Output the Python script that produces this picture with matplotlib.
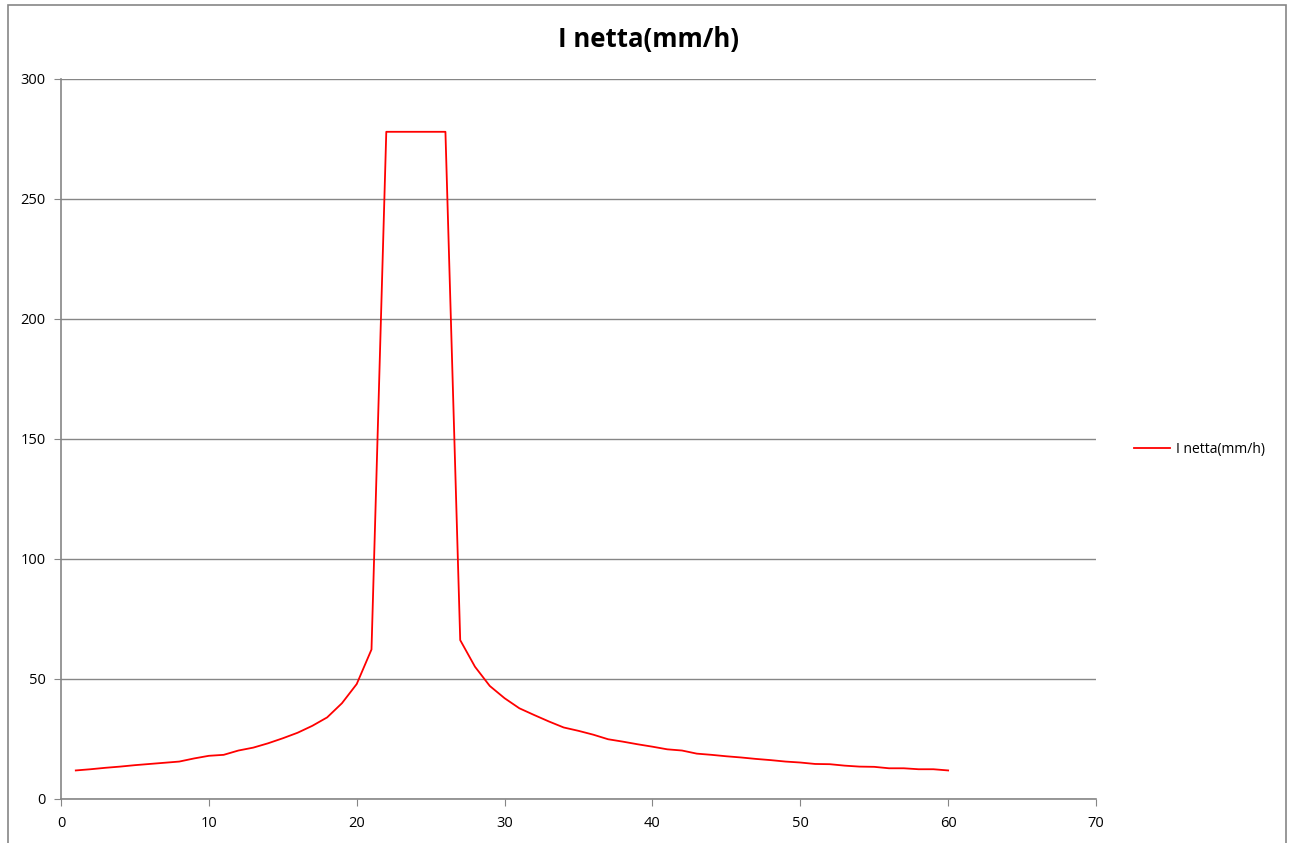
import matplotlib.pyplot as plt
from matplotlib.patches import Rectangle

x = list(range(1, 61))
i_netta = [11.9, 12.4, 13.0, 13.5, 14.1, 14.6, 15.1, 15.6, 16.9, 18.0,
           18.4, 20.2, 21.4, 23.2, 25.3, 27.6, 30.5, 34.0, 39.9, 47.9,
           62.3, 278, 278, 278, 278, 278, 66.2, 55.1, 47.1, 42.0,
           37.8, 35.0, 32.3, 29.8, 28.4, 26.8, 24.9, 23.9, 22.8, 21.8,
           20.7, 20.2, 18.9, 18.4, 17.8, 17.3, 16.7, 16.2, 15.6, 15.2,
           14.6, 14.5, 13.9, 13.5, 13.4, 12.8, 12.8, 12.4, 12.4, 11.9]

plt.rcParams['font.family'] = ['Open Sans', 'DejaVu Sans']

W, H = 1290, 843
fig = plt.figure(figsize=(W/100, H/100), dpi=100)
fig.patches.append(Rectangle((8/W, -0.1), (1286-8)/W, 1.1 - 5/H,
                             transform=fig.transFigure, fill=False,
                             edgecolor='#868686', lw=1.2))

ax = fig.add_axes([61/W, 1-799/H, (1096-61)/W, (799-79)/H])
ax.plot(x, i_netta, color='#ff0000', lw=1.3, label='I netta(mm/h)')

ax.set_xlim(0, 70)
ax.set_ylim(0, 300)
ax.set_xticks(range(0, 71, 10))
ax.set_yticks(range(0, 301, 50))
ax.grid(axis='y', color='#868686', lw=1)
ax.set_axisbelow(True)
for s in ['top', 'right']:
    ax.spines[s].set_visible(False)
for s in ['left', 'bottom']:
    ax.spines[s].set_color('#868686')
    ax.spines[s].set_linewidth(1.2)
ax.tick_params(colors='#868686', labelcolor='black', labelsize=10.5,
               length=5, direction='out')
ax.tick_params(axis='x', pad=7)
ax.tick_params(axis='y', pad=6)

fig.text(648/W, 1-40/H, 'I netta(mm/h)', ha='center', va='center',
         fontsize=18.5, fontweight='bold')

ax.legend(loc='center left', bbox_to_anchor=(1.025, 0.485), frameon=False,
          fontsize=10, handlelength=2.6, handletextpad=0.4)

fig.savefig('out.png', dpi=100)
